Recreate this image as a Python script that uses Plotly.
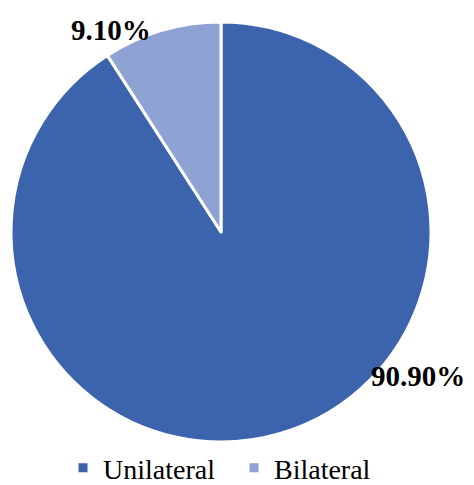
import plotly.graph_objects as go

categories = ["Unilateral", "Bilateral"]
values = [90.9, 9.1]
label_texts = ["90.90%", "9.10%"]
colors = ["#3C64AD", "#8FA2D4"]

W, H = 474, 485
fig = go.Figure(go.Pie(
    labels=categories,
    values=values,
    sort=False,
    direction="clockwise",
    rotation=0,
    marker=dict(colors=colors, line=dict(color="white", width=3)),
    textinfo="none",
    hoverinfo="label+percent",
    domain=dict(x=[11 / W, 431 / W], y=[1 - 442 / H, 1 - 22 / H]),
))

# label placements (paper coords)
label_pos = [(418 / W, 1 - 376 / H), (111 / W, 1 - 30 / H)]
for t, (x, y) in zip(label_texts, label_pos):
    fig.add_annotation(x=x, y=y, xref="paper", yref="paper", text="<b>%s</b>" % t,
                       xanchor="center", yanchor="middle",
                       showarrow=False, font=dict(family="Liberation Serif", size=29, color="black"))

fig.update_layout(
    width=W, height=H,
    margin=dict(l=0, r=0, t=0, b=0, autoexpand=False),
    paper_bgcolor="white",
    font=dict(family="Liberation Serif", size=28, color="black"),
    showlegend=True,
    legend=dict(orientation="h", x=63 / W, xanchor="left", y=1 - 468 / H, yanchor="middle",
                font=dict(size=28), entrywidth=126, entrywidthmode="pixels", tracegroupgap=0),
)
fig.write_html("out.html")
